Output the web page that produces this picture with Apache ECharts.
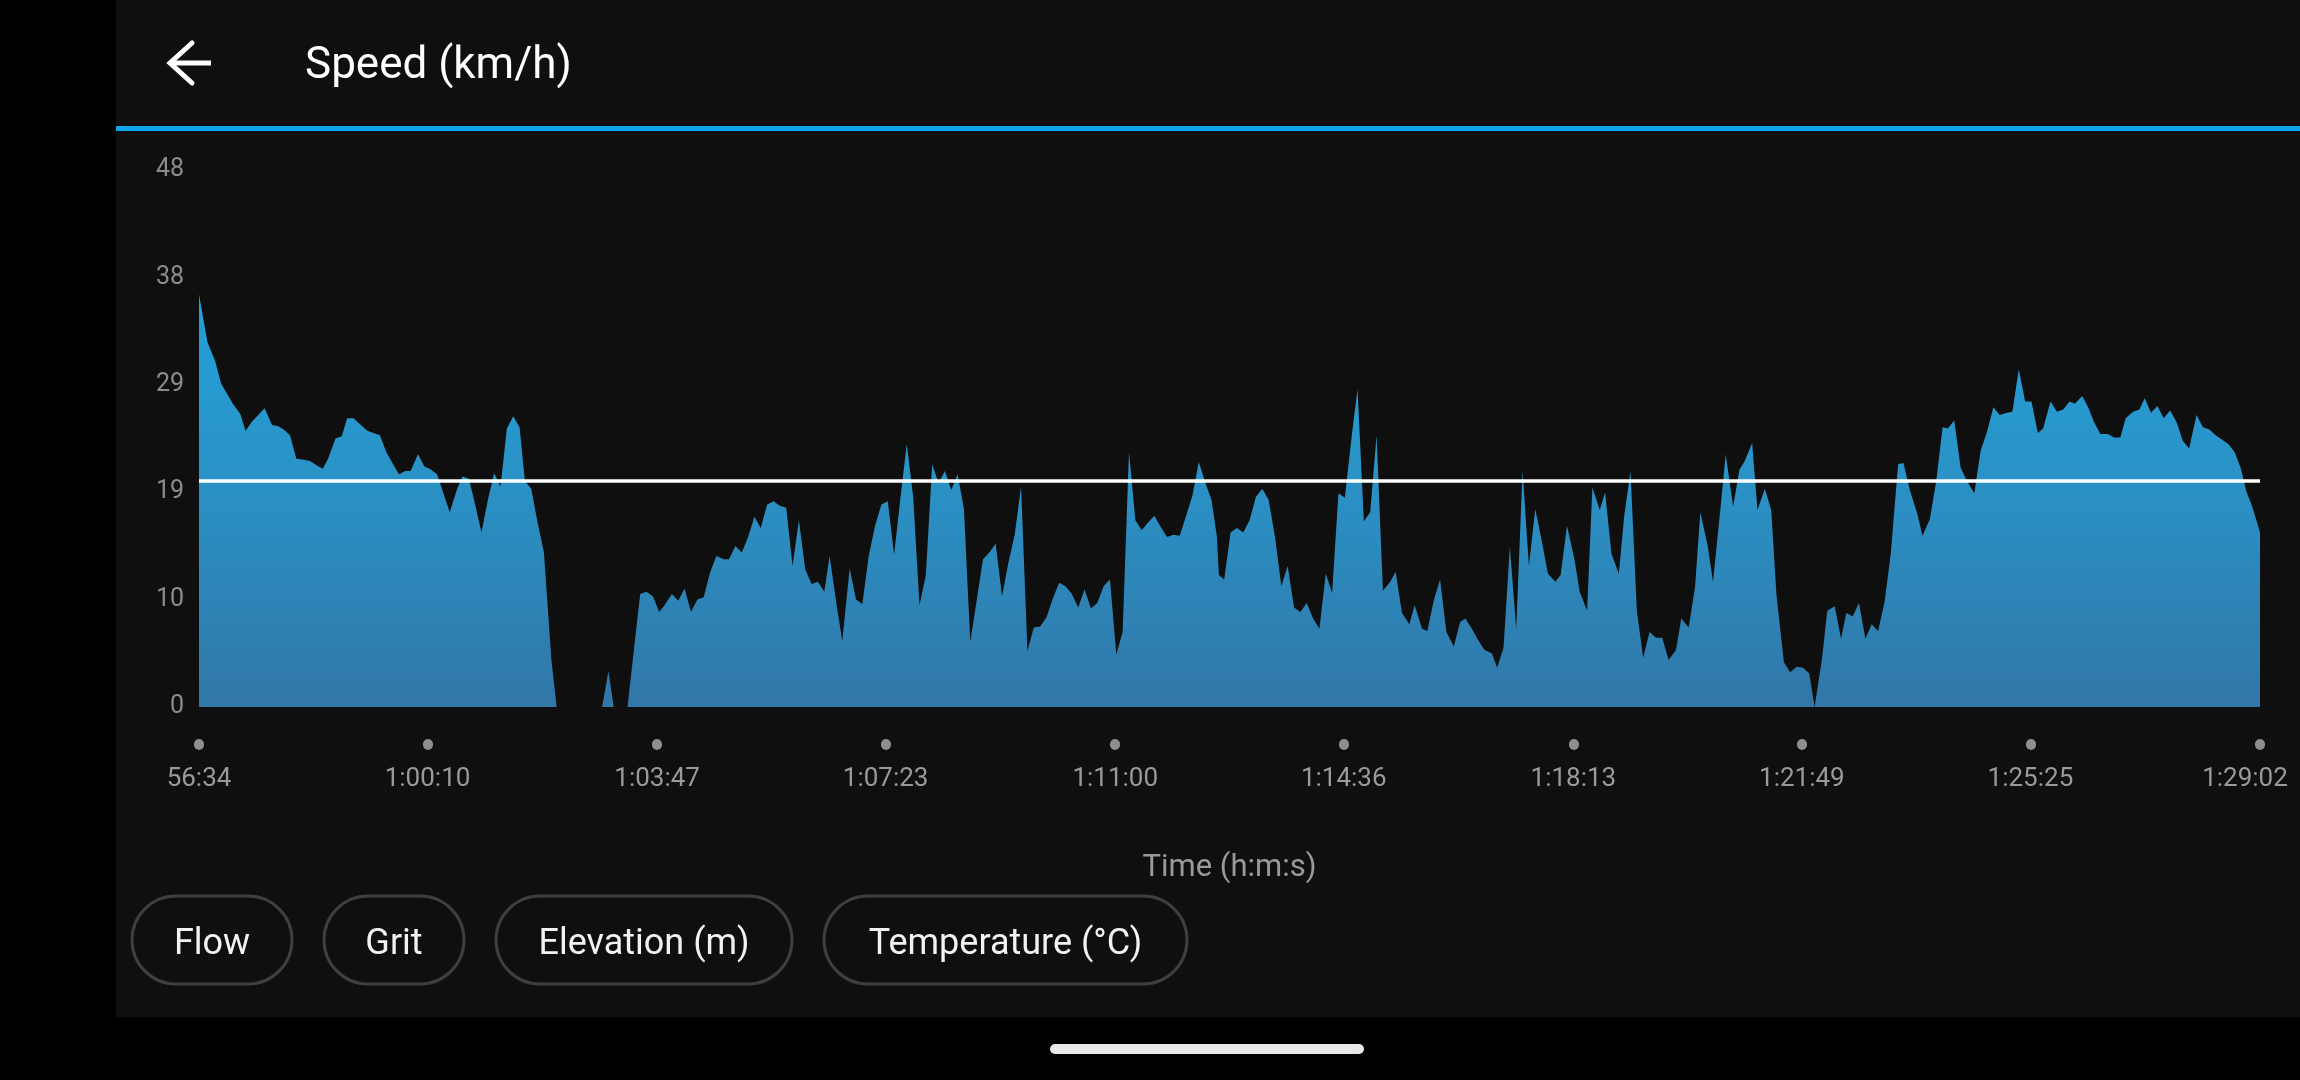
<!DOCTYPE html>
<html>
<head>
<meta charset="utf-8">
<script src="https://cdn.jsdelivr.net/npm/echarts@6/dist/echarts.min.js"></script>
<style>
html,body{margin:0;padding:0;background:#000;}
#c{width:2300px;height:1080px;}
</style>
</head>
<body>
<div id="c"></div>
<script>
// ---- data (elapsed seconds since 56:34, speed km/h) ----
const tickLabels = ['56:34','1:00:10','1:03:47','1:07:23','1:11:00','1:14:36','1:18:13','1:21:49','1:25:25','1:29:02'];
const avgSpeed = 20.2;
const yMax = 48;
const elapsedSec = [
0,8,15,21,26,32,39,44,50,56,62,69,75,80,86,92,99,105,111,117,122,129,135,140,146,152,159,165,171,177,184,189,195,200,207,213,218,225,237,244,249,255,260,267,273,279,285,291,297,303,308,314,320,326,333,338,381,387,392,405,
417,423,429,435,440,447,453,459,465,471,477,483,489,496,501,507,513,519,525,531,537,543,549,555,561,567,573,579,585,591,596,603,608,615,621,627,633,639,645,651,657,663,669,675,681,687,693,699,705,711,717,723,729,735,741,747,753,759,765,771,777,783,789,795,
801,807,813,819,825,831,837,843,849,855,861,867,873,879,885,891,897,903,909,915,921,927,933,939,945,951,957,962,964,969,975,981,987,993,999,1005,1011,1017,1023,1029,1035,1041,1047,1053,1059,1065,1071,1077,1083,1090,1095,1101,1107,1113,1119,1126,1131,1137,1144,1149,1156,1161,1167,1173,1179,1186,
1192,1197,1203,1209,1215,1222,1227,1233,1239,1245,1251,1257,1263,1269,1275,1282,1287,1293,1300,1305,1312,1317,1324,1329,1335,1342,1347,1353,1359,1365,1371,1377,1383,1389,1396,1401,1408,1414,1419,1426,1431,1438,1443,1450,1456,1461,1468,1473,1480,1486,1491,1498,1504,1510,1516,1522,1527,1534,1539,1546,1552,1557,1563,1569,1575,1581,
1587,1593,1599,1606,1611,1617,1624,1629,1636,1642,1648,1653,1659,1665,1671,1678,1684,1690,1696,1702,1709,1714,1720,1726,1732,1738,1743,1750,1756,1762,1768,1773,1780,1786,1791,1797,1804,1810,1816,1821,1828,1834,1839,1845,1851,1857,1863,1869,1875,1881,1888,1894,1900,1906,1912,1918,1924,1930,1935,1941,1948
];
const speedKmh = [
36.9,32.6,31.0,28.9,28.1,27.1,26.2,24.7,25.5,26.1,26.7,25.2,25.1,24.8,24.3,22.2,22.1,22.0,21.6,21.3,22.2,24.0,24.2,25.8,25.8,25.3,24.7,24.5,24.3,22.8,21.6,20.8,21.1,21.1,22.6,21.5,21.3,20.8,17.4,19.5,20.6,20.4,18.5,15.6,18.5,20.9,19.7,24.9,26.0,25.0,20.2,19.5,16.5,13.8,4.3,0,0,3.2,0,0,
10.1,10.3,9.9,8.5,9.1,10.1,9.5,10.6,8.5,9.6,9.8,12.0,13.5,13.2,13.2,14.4,13.8,15.2,17.0,16.0,18.1,18.4,18.0,17.8,12.6,16.7,12.3,11.0,11.2,10.3,13.5,8.9,5.9,12.4,9.6,9.2,13.5,16.2,18.1,18.4,13.6,18.7,23.5,18.8,9.1,11.8,21.7,20.0,21.1,19.4,20.8,17.7,5.8,9.5,13.2,13.8,14.6,9.9,12.9,15.4,19.7,5.0,7.1,7.2,
8.0,9.7,11.1,10.8,10.1,8.9,10.5,8.8,9.3,10.8,11.4,4.7,6.7,22.8,16.7,15.8,16.5,17.1,16.1,15.2,15.4,15.3,17.1,18.9,21.9,20.1,18.5,15.3,11.8,11.4,15.6,16.0,15.6,16.7,18.8,19.5,18.5,15.2,10.8,12.6,8.9,8.5,9.3,7.9,7.0,11.9,10.2,19.1,18.7,24.6,28.4,16.6,17.4,24.3,10.4,11.2,12.1,8.4,7.4,9.1,7.0,6.8,9.5,11.4,6.7,5.4,
7.6,7.9,7.0,6.0,5.1,4.8,3.5,5.3,14.3,7.0,21.1,12.6,17.7,14.9,11.9,11.2,11.8,16.2,13.2,10.3,8.6,19.6,17.6,19.2,13.7,11.9,17.0,21.1,8.6,4.4,6.7,6.2,6.2,4.2,5.1,7.9,7.1,10.7,17.4,14.4,11.2,17.7,22.6,17.9,21.2,22.0,23.6,17.6,19.5,17.6,10.0,4.0,3.1,3.6,3.5,3.0,0,4.3,8.6,9.0,6.1,8.4,8.1,9.3,6.1,7.4,
6.8,9.3,13.7,21.7,21.8,19.4,17.3,15.3,16.8,20.2,25.0,24.9,25.6,21.4,20.2,19.1,22.9,24.6,26.8,26.1,26.3,26.4,30.2,27.3,27.3,24.5,24.9,27.3,26.4,26.6,27.3,27.1,27.8,26.7,25.5,24.4,24.4,24.1,24.1,25.8,26.4,26.6,27.6,26.3,26.9,25.8,26.5,25.5,23.8,23.1,26.1,25.0,24.8,24.3,23.9,23.5,22.8,21.3,19.3,17.8,15.6
];
const buttons = ['Flow','Grit','Elevation (m)','Temperature (°C)'];

// ---- helpers ----
function toSec(s){ return s.split(':').map(Number).reduce((a,b)=>a*60+b,0); }
const startSec = toSec(tickLabels[0]);
const tickOffsets = tickLabels.map(l => toSec(l) - startSec);
const xMax = tickOffsets[tickOffsets.length-1];
const seriesData = elapsedSec.map((t,i)=>[t, speedKmh[i]]);

const FONT = 'Roboto, "Noto Sans", sans-serif';
const chart = echarts.init(document.getElementById('c'), null, {renderer:'canvas'});

// button geometry (layout only)
const btnBoxes = [[132,292],[324,464],[496,792],[824,1187]];
const btnGraphics = buttons.map((b,i)=>({
  type:'group', z:5,
  children:[
    {type:'rect', shape:{x:btnBoxes[i][0], y:896, width:btnBoxes[i][1]-btnBoxes[i][0], height:88, r:44},
     style:{fill:'none', stroke:'#3d3f42', lineWidth:3}},
    {type:'text', x:(btnBoxes[i][0]+btnBoxes[i][1])/2, y:945,
     style:{text:b, fill:'#f2f2f2', font:'36px '+FONT, textAlign:'center', textVerticalAlign:'middle'}}
  ]
}));

const option = {
  backgroundColor:'#000',
  animation:false,
  grid:{left:199, right:40, top:170, bottom:373, containLabel:false, outerBoundsMode:'none'},
  xAxis:[
    {
      type:'value', min:0, max:xMax,
      axisLine:{show:false}, splitLine:{show:false}, axisTick:{show:false},
      axisLabel:{
        customValues:tickOffsets, margin:58, color:'#9a9a9a', fontFamily:FONT, fontSize:26,
        showMinLabel:true, showMaxLabel:true, hideOverlap:false,
        formatter:function(v){
          const i = tickOffsets.indexOf(v);
          if(i<0) return '';
          return i===tickOffsets.length-1 ? '{r|'+tickLabels[i]+'}' : '{n|'+tickLabels[i]+'}';
        },
        rich:{
          n:{fontSize:26, lineHeight:28, color:'#9a9a9a', fontFamily:FONT},
          r:{fontSize:26, lineHeight:28, color:'#9a9a9a', fontFamily:FONT, padding:[0,30,0,0]}
        }
      },
      name:'Time (h:m:s)', nameLocation:'middle', nameGap:146,
      nameTextStyle:{color:'#9a9a9a', fontSize:31, fontFamily:FONT}
    },
    {
      type:'value', min:0, max:xMax, position:'bottom', offset:37,
      axisLine:{show:false}, splitLine:{show:false}, axisLabel:{show:false},
      axisTick:{show:true, customValues:tickOffsets, length:1, inside:false,
        lineStyle:{color:'#8e8e8e', width:10, cap:'round'}}
    }
  ],
  yAxis:{
    type:'value', min:0, max:yMax, interval:9.6,
    axisLine:{show:false}, axisTick:{show:false}, splitLine:{show:false},
    axisLabel:{margin:15, color:'#8c8c8c', fontFamily:FONT, fontSize:25,
      formatter:function(v){ return String(Math.round(v)); }}
  },
  graphic:[
    {type:'rect', z:-10, silent:true, shape:{x:116, y:0, width:2184, height:1017}, style:{fill:'#0f0f0f'}},
    {type:'rect', z:1, silent:true, shape:{x:116, y:126, width:2184, height:5}, style:{fill:'#0ea6ec'}},
    {type:'polyline', z:1, silent:true, shape:{points:[[192,43],[170,63],[192,83]]},
      style:{stroke:'#ffffff', lineWidth:5, fill:'none', lineCap:'round', lineJoin:'miter'}},
    {type:'line', z:1, silent:true, shape:{x1:171, y1:63, x2:211, y2:63},
      style:{stroke:'#ffffff', lineWidth:5, lineCap:'butt'}},
    {type:'text', z:1, silent:true, x:305, y:67,
      style:{text:'Speed (km/h)', fill:'#ffffff', font:'44px '+FONT, textVerticalAlign:'middle'}},
    {type:'rect', z:1, silent:true, shape:{x:1050, y:1044, width:314, height:10, r:5}, style:{fill:'#e8e8e8'}}
  ].concat(btnGraphics),
  series:[{
    type:'line', xAxisIndex:0, data:seriesData,
    showSymbol:false, symbol:'none', lineStyle:{width:0},
    areaStyle:{opacity:1, color:new echarts.graphic.LinearGradient(0,200,0,707,[
      {offset:0, color:'#1ea9e3'},
      {offset:0.55, color:'#2a92c6'},
      {offset:1, color:'#3177a8'}
    ], true)},
    markLine:{
      silent:true, symbol:['none','none'], label:{show:false},
      lineStyle:{color:'#ffffff', width:3.5, type:'solid'},
      emphasis:{disabled:true},
      data:[{yAxis:avgSpeed}]
    }
  }]
};
chart.setOption(option);
</script>
</body>
</html>
